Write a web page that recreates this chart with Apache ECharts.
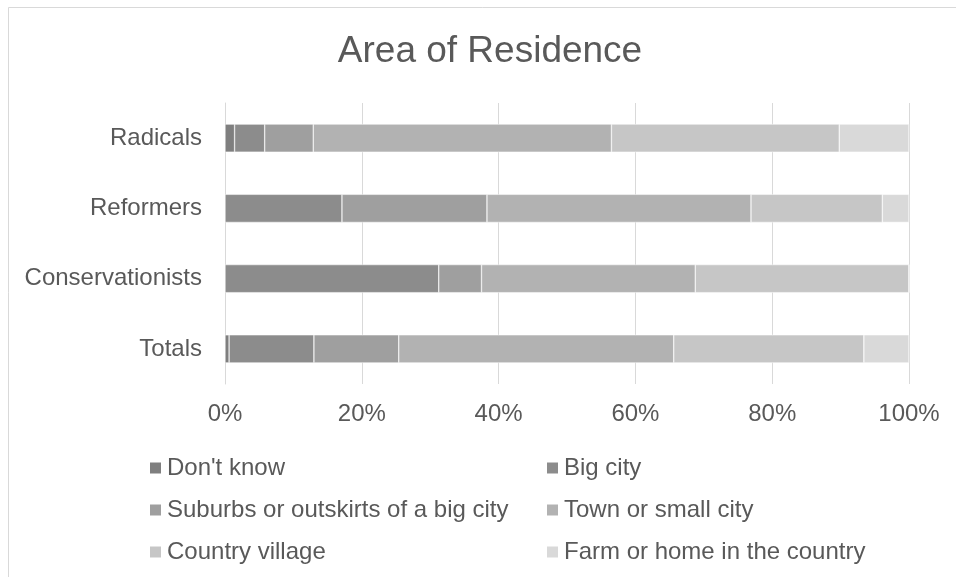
<!DOCTYPE html>
<html>
<head>
<meta charset="utf-8">
<style>
  html, body { margin: 0; padding: 0; background: #fff; }
  #chart { width: 956px; height: 577px; }
</style>
<script src="https://cdn.jsdelivr.net/npm/echarts@6/dist/echarts.min.js"></script>
</head>
<body>
<div id="chart"></div>
<script>
// Groups, bottom to top on the category axis
const groups = ['Totals', 'Conservationists', 'Reformers', 'Radicals'];

// Share of each group (percent) per area of residence, same order as groups
const dontKnow   = [0.6, 0, 0, 1.4];
const bigCity    = [12.4, 31.25, 17.1, 4.4];
const suburbs    = [12.4, 6.25, 21.2, 7.1];
const townSmall  = [40.2, 31.25, 38.6, 43.6];
const village    = [27.8, 31.25, 19.2, 33.3];
const farmHome   = [6.6, 0, 3.9, 10.2];

const seriesNames = [
  "Don't know",
  'Big city',
  'Suburbs or outskirts of a big city',
  'Town or small city',
  'Country village',
  'Farm or home in the country'
];
const seriesValues = [dontKnow, bigCity, suburbs, townSmall, village, farmHome];
const seriesColors = ['#7f7f7f', '#8c8c8c', '#9f9f9f', '#b2b2b2', '#c6c6c6', '#d9d9d9'];

const xTicks = [0, 20, 40, 60, 80, 100];

const FONT = '"Liberation Sans", Arial, sans-serif';
const TEXT = '#595959';

const chart = echarts.init(document.getElementById('chart'), null, { renderer: 'canvas' });

const legendText = { color: TEXT, fontSize: 24, fontFamily: FONT, lineHeight: 24, padding: [0, 0, 0, 0] };

chart.setOption({
  animation: false,
  backgroundColor: '#fff',
  graphic: [{
    type: 'rect',
    shape: { x: 8.5, y: 7.5, width: 1000, height: 1000 },
    style: { fill: 'none', stroke: '#d9d9d9', lineWidth: 1 },
    silent: true
  }],
  title: {
    text: 'Area of Residence',
    left: 485,
    textAlign: 'center',
    top: 28,
    textStyle: { color: TEXT, fontSize: 37, fontWeight: 'normal', fontFamily: FONT }
  },
  legend: [
    {
      orient: 'vertical',
      left: 143,
      top: 451,
      itemWidth: 13,
      itemHeight: 13,
      itemGap: 18,
      icon: 'rect',
      data: [seriesNames[0], seriesNames[2], seriesNames[4]],
      textStyle: legendText
    },
    {
      orient: 'vertical',
      left: 540,
      top: 451,
      itemWidth: 13,
      itemHeight: 13,
      itemGap: 18,
      icon: 'rect',
      data: [seriesNames[1], seriesNames[3], seriesNames[5]],
      textStyle: legendText
    }
  ],
  grid: { left: 225, right: 47, top: 103, bottom: 193, containLabel: false },
  xAxis: {
    type: 'value',
    min: 0,
    max: 100,
    interval: 20,
    axisLine: { show: false },
    axisTick: { show: false },
    splitLine: { show: true, lineStyle: { color: '#d9d9d9', width: 1 } },
    axisLabel: {
      color: TEXT, fontSize: 24, fontFamily: FONT, margin: 18,
      formatter: v => (xTicks.indexOf(v) >= 0 ? v + '%' : '')
    }
  },
  yAxis: {
    type: 'category',
    data: groups,
    axisLine: { show: true, lineStyle: { color: '#d9d9d9' } },
    axisTick: { show: false },
    axisLabel: { color: TEXT, fontSize: 24, fontFamily: FONT, margin: 23 }
  },
  series: seriesNames.map((name, i) => ({
    name: name,
    type: 'bar',
    stack: 'total',
    barCategoryGap: '60%',
    data: seriesValues[i],
    itemStyle: { color: seriesColors[i], borderColor: '#ffffff', borderWidth: 0.5 },
    emphasis: { disabled: true }
  }))
});
</script>
</body>
</html>
